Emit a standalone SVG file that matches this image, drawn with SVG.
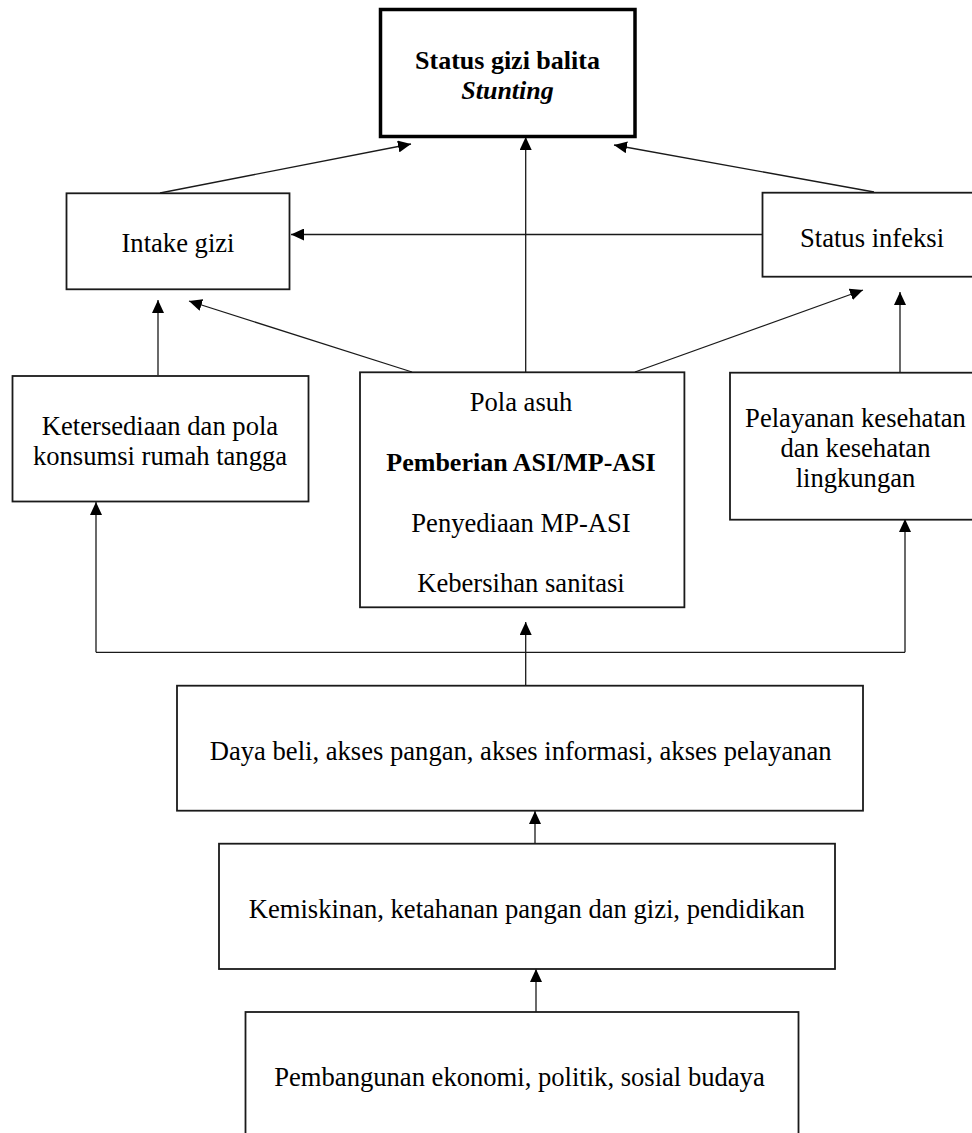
<svg xmlns="http://www.w3.org/2000/svg" width="972" height="1133" viewBox="0 0 972 1133">
<style>
.box{fill:#fff;stroke:#1a1a1a;stroke-width:1.8}
.thick{fill:#fff;stroke:#000;stroke-width:3.5}
.t{font-family:"Liberation Serif","Times New Roman",serif;font-size:26.6px;fill:#000;text-anchor:middle}
.b{font-weight:bold;font-size:26px}
.i{font-style:italic}
.ln{fill:none;stroke:#1a1a1a;stroke-width:1.3}
</style>
<defs>
<marker id="ah" markerUnits="userSpaceOnUse" markerWidth="13" markerHeight="12" refX="13" refY="6" orient="auto">
<path d="M0,0 L13,6 L0,12 z" fill="#000"/>
</marker>
</defs>
<rect width="972" height="1133" fill="#fff"/>
<g id="connectors">
<line class="ln" x1="160" y1="193" x2="411" y2="144" marker-end="url(#ah)"/>
<line class="ln" x1="525.7" y1="372" x2="525.7" y2="137" marker-end="url(#ah)"/>
<line class="ln" x1="874" y1="192" x2="614" y2="145" marker-end="url(#ah)"/>
<line class="ln" x1="762" y1="234.5" x2="291" y2="234.5" marker-end="url(#ah)"/>
<line class="ln" x1="158" y1="375" x2="158" y2="300" marker-end="url(#ah)"/>
<line class="ln" x1="412" y1="372" x2="189" y2="301" marker-end="url(#ah)"/>
<line class="ln" x1="635" y1="372" x2="863" y2="290" marker-end="url(#ah)"/>
<line class="ln" x1="900" y1="372" x2="900" y2="292" marker-end="url(#ah)"/>
<line class="ln" x1="96" y1="652.3" x2="905" y2="652.3"/>
<line class="ln" x1="96" y1="652.3" x2="96" y2="502" marker-end="url(#ah)"/>
<line class="ln" x1="905" y1="652.3" x2="905" y2="519" marker-end="url(#ah)"/>
<line class="ln" x1="525.7" y1="685" x2="525.7" y2="622" marker-end="url(#ah)"/>
<line class="ln" x1="535" y1="843" x2="535" y2="811" marker-end="url(#ah)"/>
<line class="ln" x1="536" y1="1012" x2="536" y2="969" marker-end="url(#ah)"/>
</g>
<g id="status-gizi">
<rect class="thick" x="380.5" y="9.5" width="254.5" height="127"/>
<text class="t b" x="507.5" y="68.5">Status gizi balita</text>
<text class="t b i" x="507.5" y="99">Stunting</text>
</g>
<g id="intake-gizi">
<rect class="box" x="66.5" y="193.3" width="223" height="96"/>
<text class="t" x="178" y="252">Intake gizi</text>
</g>
<g id="status-infeksi">
<rect class="box" x="762.5" y="192.7" width="220" height="84"/>
<text class="t" x="872" y="246.7">Status infeksi</text>
</g>
<g id="ketersediaan">
<rect class="box" x="12.5" y="376" width="296" height="125.5"/>
<text class="t" x="160" y="435">Ketersediaan dan pola</text>
<text class="t" x="160" y="465">konsumsi rumah tangga</text>
</g>
<g id="pola-asuh">
<rect class="box" x="360" y="372.3" width="324.4" height="235"/>
<text class="t" x="521" y="411">Pola asuh</text>
<text class="t b" x="521" y="471">Pemberian ASI/MP-ASI</text>
<text class="t" x="521" y="531.7">Penyediaan MP-ASI</text>
<text class="t" x="521" y="592.3">Kebersihan sanitasi</text>
</g>
<g id="pelayanan">
<rect class="box" x="730" y="372.7" width="252" height="147"/>
<text class="t" x="855.5" y="427.3">Pelayanan kesehatan</text>
<text class="t" x="855.5" y="457.3">dan kesehatan</text>
<text class="t" x="855.5" y="487.3">lingkungan</text>
</g>
<g id="daya-beli">
<rect class="box" x="177" y="685.7" width="686" height="125"/>
<text class="t" x="520.7" y="760">Daya beli, akses pangan, akses informasi, akses pelayanan</text>
</g>
<g id="kemiskinan">
<rect class="box" x="219" y="843.7" width="616" height="125.3"/>
<text class="t" x="526.8" y="918.3">Kemiskinan, ketahanan pangan dan gizi, pendidikan</text>
</g>
<g id="pembangunan">
<rect class="box" x="245.5" y="1012" width="553" height="140"/>
<text class="t" x="519.5" y="1086">Pembangunan ekonomi, politik, sosial budaya</text>
</g>
</svg>
